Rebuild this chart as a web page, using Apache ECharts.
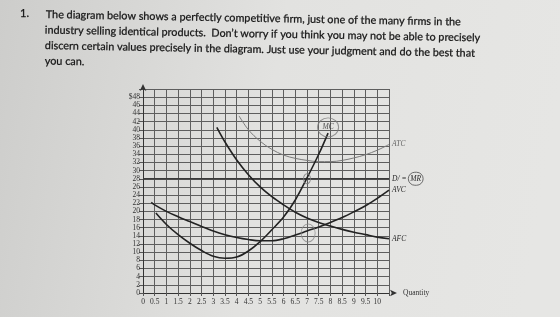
<!DOCTYPE html>
<html><head><meta charset="utf-8">
<script src="https://cdn.jsdelivr.net/npm/echarts@6/dist/echarts.min.js"></script>
<style>html,body{margin:0;padding:0;background:#dededc}#c{width:560px;height:317px}</style>
</head><body><div id="c"></div>
<script>
// ---- data ----
const questionNumber = '1.';
const questionLines = [
  'The diagram below shows a perfectly competitive firm, just one of the many firms in the',
  'industry selling identical products.  Don\u2019t worry if you think you may not be able to precisely',
  'discern certain values precisely in the diagram. Just use your judgment and do the best that',
  'you can.'
];
const qMax = 10.5, qStep = 0.5, qLastLabel = 10;
const costMax = 50, costStep = 2, costLastLabel = 48;
const price = 28;
const mcPoints  = [[0.55,19.6],[1,16.8],[1.5,14.3],[2,12.2],[2.5,10.4],[3,9.0],[3.5,8.5],[4,8.8],[4.5,10.3],[5,12.6],[5.5,15.5],[6,18.6],[6.5,22.8],[7,28.2],[7.5,34],[7.9,39.2]];
const atcPoints = [[4.1,43.4],[4.5,40],[5,37.2],[5.5,35.2],[6,33.8],[6.5,33],[7,32.5],[7.5,32.2],[8,32.2],[8.5,32.5],[9,33.1],[9.5,33.9],[10,35],[10.5,36.4]];
const avcPoints = [[0.35,22.2],[0.5,21.6],[1,20],[1.5,18.7],[2,17.5],[2.5,16.3],[3,15.2],[3.5,14.3],[4,13.6],[4.5,13.1],[5,12.8],[5.5,12.8],[6,13.3],[6.5,14.2],[7,15.2],[7.5,16.2],[8,17.3],[8.5,18.5],[9,19.9],[9.5,21.4],[10,23.2],[10.5,25.2]];
const afcPoints = [[3.15,40.6],[3.5,37],[4,32.6],[4.5,29],[5,26],[5.5,23.6],[6,21.6],[6.5,19.8],[7,18.4],[7.5,17.3],[8,16.4],[8.5,15.6],[9,14.9],[9.5,14.3],[10,13.7],[10.5,13.3]];
const mcLabelPoint = [7.9, 40.6];
const mrCirclePoint = [7.0, 28];
const minCirclePoint = [7.05, 14.7];

// ---- chart ----
const chart = echarts.init(document.getElementById('c'), null, {renderer:'canvas'});
const serif = 'Liberation Serif';
const lblStyle = {fontFamily: serif, fontStyle:'italic', fontSize: 7.5, color:'#2a2a2a'};
function curve(name, pts, color, width, endText, extra) {
  return Object.assign({
    type:'line', name, data: pts, smooth: 0.35, symbol:'none', z: 5,
    lineStyle:{color, width},
    endLabel: endText ? Object.assign({show:true, formatter:endText, distance:3}, lblStyle) : {show:false}
  }, extra || {});
}
const textEls = [{type:'text', x:20, y:8, style:{text:questionNumber, font:'11px Lato', fill:'#151515', stroke:'#151515', lineWidth:0.25}}]
  .concat(questionLines.map((t,i)=>({
    type:'text', x: i===0?46:45, y: 9 + i*15.5, rotation: -0.018,
    style:{text:t, font:'10.8px Lato', fill:'#151515', stroke:'#151515', lineWidth:0.25}
  })));

chart.setOption({
  backgroundColor: {type:'linear', x:0, y:0, x2:1, y2:0.3, colorStops:[{offset:0,color:'#cdcdcb'},{offset:0.5,color:'#e2e2e0'},{offset:1,color:'#e6e6e4'}]},
  animation:false,
  grid:{left:143, right:171, top:89, bottom:24},
  graphic: textEls,
  xAxis:{
    type:'value', min:0, max:qMax, interval:qStep,
    name:'Quantity', nameLocation:'end', nameGap:14,
    nameTextStyle:{fontFamily:serif, fontSize:7.5, color:'#333', verticalAlign:'middle', padding:[6,0,0,0]},
    axisLine:{show:true, lineStyle:{color:'#333', width:1}, symbol:['none','arrow'], symbolSize:[5,7], symbolOffset:[0,8]},
    axisTick:{show:true, length:3, lineStyle:{color:'#555'}},
    axisLabel:{fontFamily:serif, fontSize:7.5, color:'#333', margin:5, formatter: v => v > qLastLabel ? '' : String(v)},
    splitLine:{show:true, lineStyle:{color:'#5e5e5e', width:1}}
  },
  yAxis:{
    type:'value', min:0, max:costMax, interval:costStep,
    axisLine:{show:true, lineStyle:{color:'#333', width:1}, symbol:['none','arrow'], symbolSize:[5,7], symbolOffset:[0,5]},
    axisTick:{show:true, length:4, lineStyle:{color:'#555'}},
    axisLabel:{fontFamily:serif, fontSize:7.5, color:'#333', margin:3,
      formatter: v => v > costLastLabel ? '' : (v === costLastLabel ? '$' + v : String(v))},
    splitLine:{show:true, lineStyle:{color:'#5e5e5e', width:1}}
  },
  series:[
    curve('ATC', atcPoints, '#7a7a7a', 1, 'ATC', {endLabel:Object.assign({show:true, formatter:'ATC', distance:3}, lblStyle, {color:'#666'})}),
    {
      type:'line', name:'MR', data:[[0,price],[qMax,price]], symbol:'none', z:4,
      lineStyle:{color:'#3a3a3a', width:1.6},
      endLabel:Object.assign({show:true, distance:3, formatter:'D/ = {mr|MR}',
        rich:{mr:{fontFamily:serif, fontStyle:'italic', fontSize:7.5, color:'#2a2a2a', borderColor:'#6a6a6a', borderWidth:1, borderRadius:8, padding:[3,2,2,2]}}}, lblStyle)
    },
    curve('AVC', avcPoints, '#222', 1.6, 'AVC'),
    curve('AFC', afcPoints, '#222', 1.6, 'AFC'),
    curve('MC', mcPoints, '#222', 1.6, null),
    {
      type:'scatter', name:'MC label', data:[mcLabelPoint], symbol:'circle', symbolSize:[21,19], z:6,
      itemStyle:{color:'rgba(0,0,0,0)', borderColor:'#7a7a7a', borderWidth:1},
      label:Object.assign({show:true, position:'inside', formatter:'MC'}, lblStyle)
    },
    {
      type:'scatter', name:'price mark', data:[mrCirclePoint], symbol:'circle', symbolSize:[7,10], z:6,
      itemStyle:{color:'rgba(0,0,0,0)', borderColor:'#7a7a7a', borderWidth:1}
    },
    {
      type:'scatter', name:'quantity mark', data:[minCirclePoint], symbol:'circle', symbolSize:[14,18], z:6,
      itemStyle:{color:'rgba(0,0,0,0)', borderColor:'#8a8a8a', borderWidth:1}
    }
  ]
});
</script></body></html>
